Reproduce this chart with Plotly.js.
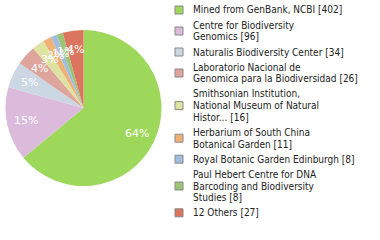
<!DOCTYPE html>
<html><head><meta charset="utf-8">
<script src="https://cdn.plot.ly/plotly-3.0.1.min.js"></script>
<style>html,body{margin:0;padding:0;background:#fff}#c{width:380px;height:240px}</style>
</head><body><div id="c"></div>
<script>
const legendLines = [
  ["Mined from GenBank, NCBI [402]"],
  ["Centre for Biodiversity","Genomics [96]"],
  ["Naturalis Biodiversity Center [34]"],
  ["Laboratorio Nacional de","Genomica para la Biodiversidad [26]"],
  ["Smithsonian Institution,","National Museum of Natural","Histor... [16]"],
  ["Herbarium of South China","Botanical Garden [11]"],
  ["Royal Botanic Garden Edinburgh [8]"],
  ["Paul Hebert Centre for DNA","Barcoding and Biodiversity","Studies [8]"],
  ["12 Others [27]"]
];
const values = [402,96,34,26,16,11,8,8,27];
const colors = ["#9ed85a","#dcbadc","#cbd8e4","#dea59c","#dfe3a1","#efb175","#a0bde0","#9cc475","#dc7560"];
const labels = legendLines.map(l => l.join(" "));

const W = 380, H = 240;
const dom = {x:[0.0132,0.4263], y:[0.225,0.875]};

const pie = {
  type:'pie', labels:labels, values:values, sort:false, direction:'clockwise', rotation:0,
  marker:{colors:colors, line:{width:0}}, textinfo:'none', hoverinfo:'none', showlegend:false,
  domain:dom
};

const annotations = [], shapes = [];
// percentage labels at mid-angle of each slice
const total = values.reduce((a,b)=>a+b,0);
const cx = (dom.x[0]+dom.x[1])/2*W, cy = (1-(dom.y[0]+dom.y[1])/2)*H;
const R = Math.min((dom.x[1]-dom.x[0])*W, (dom.y[1]-dom.y[0])*H)/2;
let cum = 0;
values.forEach(v => {
  const th = 2*Math.PI*(cum + v/2)/total;
  cum += v;
  const px = cx + 0.76*R*Math.sin(th), py = cy - 0.76*R*Math.cos(th);
  annotations.push({xref:'paper', yref:'paper', x:px/W, y:1-py/H, xanchor:'center', yanchor:'middle',
    showarrow:false, text:Math.round(100*v/total)+'%',
    font:{family:'DejaVu Sans', size:11, color:'#fff'}});
});

// custom legend
const lineH = 11.6, gap = 3.6, x0 = 175, sq = 8, tx = 191;
let y = 10;
legendLines.forEach((lines, i) => {
  const n = lines.length;
  const cyl = y + (n-1)*lineH/2;
  shapes.push({type:'rect', xref:'paper', yref:'paper',
    x0:x0/W, x1:(x0+sq)/W, y0:1-(cyl-sq/2)/H, y1:1-(cyl+sq/2)/H,
    fillcolor:colors[i], line:{color:'#888', width:1}});
  lines.forEach((t, j) => {
    annotations.push({xref:'paper', yref:'paper', x:tx/W, y:1-(y+j*lineH)/H,
      xanchor:'left', yanchor:'middle', showarrow:false, text:t,
      font:{family:'DejaVu Sans Condensed', size:10, color:'#222'}});
  });
  y += n*lineH + gap;
});

const layout = {
  width:W, height:H, margin:{l:0,r:0,t:0,b:0}, paper_bgcolor:'#fff', showlegend:false,
  annotations:annotations, shapes:shapes
};
Plotly.newPlot('c',[pie],layout,{staticPlot:true});
</script></body></html>
